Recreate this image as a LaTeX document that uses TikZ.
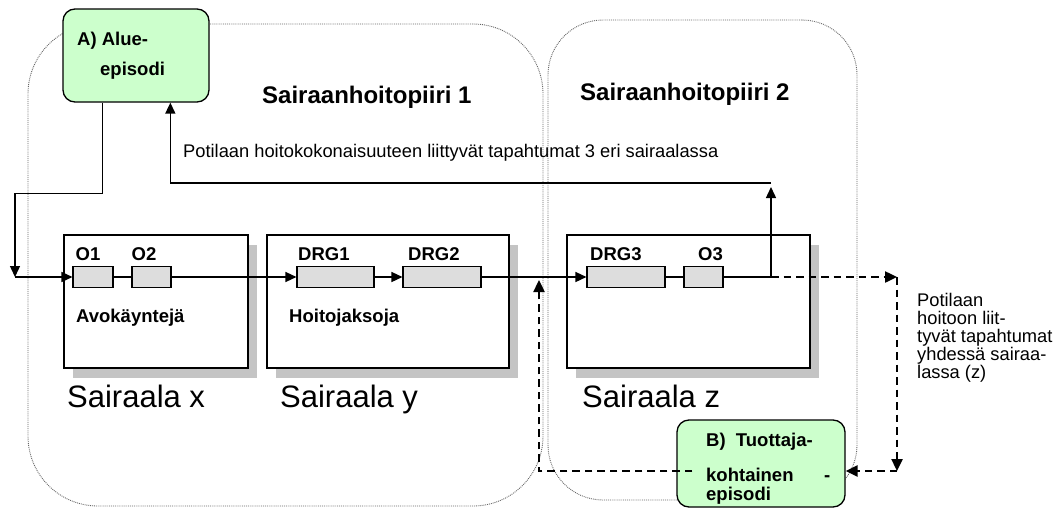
\documentclass[tikz,border=0pt]{standalone}
\usepackage{fontspec}
\setmainfont{Liberation Sans}
\usetikzlibrary{arrows.meta,shadows}
\definecolor{epig}{HTML}{CCFFCC}
\definecolor{shad}{HTML}{C4C4C4}
\definecolor{evg}{HTML}{DDDDDD}
\begin{document}
\begin{tikzpicture}[x=1pt,y=-1pt,
  region/.style={draw=black!60, densely dotted, line width=0.9pt, rounded corners=#1, inner sep=0pt},
  hosp/.style={draw=black, line width=1.4pt, fill=white, minimum height=133pt, inner sep=0pt,
    drop shadow={shadow xshift=9pt, shadow yshift=-10pt, fill=shad, opacity=1}},
  ev/.style={draw=black, line width=1.1pt, fill=evg, minimum height=21pt, inner sep=0pt},
  epi/.style={draw=black, line width=1.3pt, fill=epig, rounded corners=12pt, inner sep=0pt},
  lbl/.style={font=\fontsize{18.5}{19}\selectfont\bfseries, anchor=base west, inner sep=0pt},
  txt/.style={font=\fontsize{18.3}{19}\selectfont, anchor=base west, inner sep=0pt},
  big/.style={font=\fontsize{31}{33}\selectfont, anchor=base west, inner sep=0pt},
  ttl/.style={font=\fontsize{24}{26}\selectfont\bfseries, anchor=base west, inner sep=0pt},
  conn/.style={draw=black, line width=1.4pt},
  arr/.style={conn, -{Triangle[length=11pt,width=10pt]}},
  dconn/.style={draw=black, line width=2.4pt, dash pattern=on 7.5pt off 5pt},
  darr/.style={dconn, -{Triangle[length=12pt,width=11pt]}}
]
\useasboundingbox (0,0) rectangle (1058,514);

% regions
\node[region=70pt, minimum width=515pt, minimum height=482pt] (sh1) at (285.5,265) {};
\node[region=55pt, minimum width=309pt, minimum height=480pt] (sh2) at (702.5,260) {};

% hospitals
\node[hosp, minimum width=184pt] (hx) at (156,301.5) {};
\node[hosp, minimum width=242pt] (hy) at (388,301.5) {};
\node[hosp, minimum width=243pt] (hz) at (688.5,301.5) {};

% events
\node[ev, minimum width=40pt] (o1) at (93,277) {};
\node[ev, minimum width=39pt] (o2) at (151.5,277) {};
\node[ev, minimum width=77pt] (d1) at (335.5,277) {};
\node[ev, minimum width=78pt] (d2) at (442,277) {};
\node[ev, minimum width=78pt] (d3) at (626,277) {};
\node[ev, minimum width=39pt] (o3) at (703.5,277) {};

% episodes
\node[epi, minimum width=146pt, minimum height=93pt] (A) at (136,55.5) {};
\node[epi, minimum width=168pt, minimum height=87pt] (B) at (761,463.5) {};

% texts
\node[lbl] (tA1) at (77,45) {A) Alue-};
\node[lbl] (tA2) at (100,75) {episodi};
\node[ttl] (t1) at (262,103) {Sairaanhoitopiiri 1};
\node[ttl] (t2) at (580,100) {Sairaanhoitopiiri 2};
\node[txt] (tp) at (183,157) {Potilaan hoitokokonaisuuteen liittyvät tapahtumat 3 eri sairaalassa};

\node[lbl] (lo1) at (75.5,260) {O1};
\node[lbl] (lo2) at (131.5,260) {O2};
\node[lbl] (ld1) at (298,260) {DRG1};
\node[lbl] (ld2) at (408,260) {DRG2};
\node[lbl] (ld3) at (590,260) {DRG3};
\node[lbl] (lo3) at (698,260) {O3};
\node[lbl] (lx) at (76,322) {Avokäyntejä};
\node[lbl] (ly) at (289,322) {Hoitojaksoja};

\node[big] (sx) at (67,407) {Sairaala x};
\node[big] (sy) at (280,407) {Sairaala y};
\node[big] (sz) at (582,407) {Sairaala z};

\node[txt] (r1) at (917,306) {Potilaan};
\node[txt] (r2) at (917,324) {hoitoon liit-};
\node[txt] (r3) at (917,342) {tyvät tapahtumat};
\node[txt] (r4) at (917,360) {yhdessä sairaa-};
\node[txt] (r5) at (917,378) {lassa (z)};

\node[lbl] (tB1) at (706,446) {B)\ \ Tuottaja-};
\node[lbl] (tB2) at (706,481) {kohtainen};
\node[lbl] (tB3) at (824,481) {-};
\node[lbl] (tB4) at (706,500) {episodi};

% connectors
\coordinate (in) at (15,277);
\coordinate (turn) at (771,277);
\coordinate (top) at (771,183);
\coordinate (rc) at (897,277);
\coordinate (rb) at (897,471);
\coordinate (up) at (539,280);

\draw[arr] ([xshift=40pt]A.south west) -- ++(0,91) -| (in);
\draw[arr] (in) -- (o1.west);
\draw[conn] (o1) -- (o2);
\draw[arr] (o2) -- (d1);
\draw[arr] (d1) -- (d2);
\draw[arr] (d2) -- (d3);
\draw[conn] (d3) -- (o3);
\draw[conn] (o3) -- (turn);
\draw[arr] (turn) -- ++(0,-90);
\draw[arr] (top) -| ([xshift=108pt]A.south west);

\draw[darr] (turn) -- (rc);
\draw[darr] (rc) -- (rb);
\draw[darr] (rb) -- (B.east |- rb);
\draw[darr] ([xshift=16pt]B.west |- rb) -| (up);
\end{tikzpicture}
\end{document}
